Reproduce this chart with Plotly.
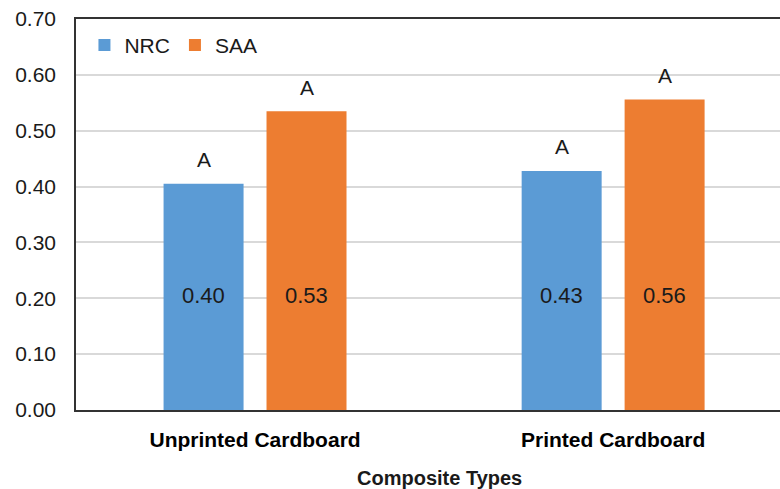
import plotly.graph_objects as go

categories = ["Unprinted Cardboard", "Printed Cardboard"]
nrc_values = [0.405, 0.428]
saa_values = [0.535, 0.556]
nrc_labels = ["0.40", "0.43"]
saa_labels = ["0.53", "0.56"]
nrc_letters = ["A", "A"]
saa_letters = ["A", "A"]
x_title = "Composite Types"
y_ticks = [0.0, 0.1, 0.2, 0.3, 0.4, 0.5, 0.6, 0.7]
y_tick_labels = ["0.00", "0.10", "0.20", "0.30", "0.40", "0.50", "0.60", "0.70"]

BLUE = "#5B9BD5"
ORANGE = "#ED7D31"
FONT = "Liberation Sans, Arial, sans-serif"

fig = go.Figure()
fig.add_trace(go.Bar(name="NRC", x=categories, y=nrc_values, marker=dict(color=BLUE, line=dict(width=0))))
fig.add_trace(go.Bar(name="SAA", x=categories, y=saa_values, marker=dict(color=ORANGE, line=dict(width=0))))

annotations = []
group_w = (1 - 0.425) / 2
for i, cat in enumerate(categories):
    for off, val, lab, let in [(-group_w / 2, nrc_values[i], nrc_labels[i], nrc_letters[i]),
                               (group_w / 2, saa_values[i], saa_labels[i], saa_letters[i])]:
        annotations.append(dict(x=i + off, y=0.205, xref="x", yref="y", text=lab, showarrow=False,
                                font=dict(family=FONT, size=22, color="#1a1a1a"), yanchor="middle"))
        annotations.append(dict(x=i + off, y=val, xref="x", yref="y", text=let, showarrow=False,
                                font=dict(family=FONT, size=21, color="#1a1a1a"), yanchor="middle", yshift=24))

annotations.append(dict(x=0.517, y=-0.174, xref="paper", yref="paper", text="<b>" + x_title + "</b>",
                        showarrow=False, xanchor="center", yanchor="middle",
                        font=dict(family=FONT, size=20, color="#1a1a1a")))

fig.update_layout(
    width=780, height=489,
    margin=dict(l=76, r=0, t=19, b=79, autoexpand=False),
    paper_bgcolor="white", plot_bgcolor="white",
    barmode="group", bargap=0.425, bargroupgap=0.223,
    font=dict(family=FONT, size=21, color="#1a1a1a"),
    showlegend=True,
    legend=dict(orientation="h", x=0.012, y=0.985, xanchor="left", yanchor="top",
                font=dict(family=FONT, size=21, color="#1a1a1a"), bgcolor="rgba(0,0,0,0)",
                itemwidth=30, tracegroupgap=0),
    annotations=annotations,
    xaxis=dict(range=[-0.5, 1.466], showline=True, mirror=True, linecolor="#333333", linewidth=1.5,
               showgrid=False, automargin=False,
               tickfont=dict(family=FONT, size=21, color="#000000", weight="bold"),
               ticklabelstandoff=10),
    yaxis=dict(range=[0, 0.7], tickvals=y_ticks, ticktext=y_tick_labels, showline=True, linecolor="#333333",
               linewidth=1.5, gridcolor="#D9D9D9", gridwidth=1.5, zeroline=False, automargin=False,
               tickfont=dict(family=FONT, size=21, color="#1a1a1a"), ticklabelstandoff=14),
)

fig.write_html("out.html", config={"displayModeBar": False},
               post_script="document.body.style.margin='0';document.body.style.padding='0';")
